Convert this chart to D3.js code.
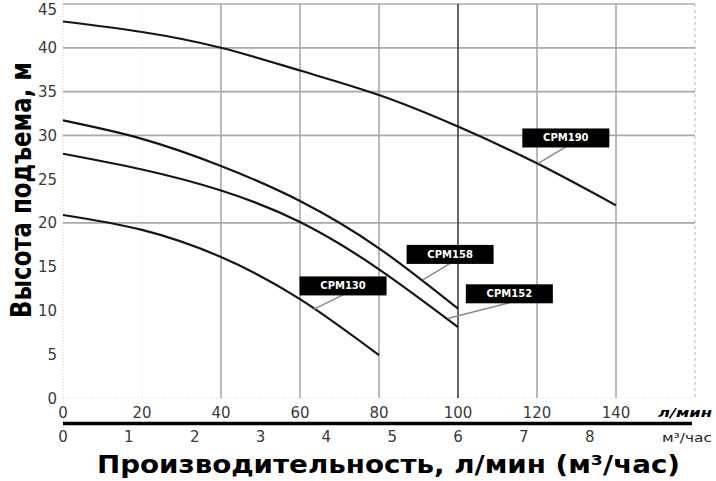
<!DOCTYPE html>
<html>
<head>
<meta charset="utf-8">
<script src="https://cdn.jsdelivr.net/npm/d3@7/dist/d3.min.js"></script>
<style>
  body { margin: 0; background: #fff; }
  svg { display: block; }
  .tick-label { font-family: "DejaVu Sans", sans-serif; font-size: 15px; fill: #3a3a3a; }
</style>
</head>
<body>
<div id="chart"></div>
<script>
var w = 716;
var h = 481;

// flow, l/min and head, m
var flow190 = [0, 20, 40, 60, 80, 100, 120, 140];
var head190 = [43, 41.8, 40, 37.4, 34.6, 31, 26.8, 22];
var flow158 = [0, 20, 40, 60, 80, 100];
var head158 = [31.7, 29.6, 26.5, 22.5, 17.1, 10.2];
var flow152 = [0, 20, 40, 60, 80, 100];
var head152 = [27.9, 26.1, 23.7, 20.1, 14.7, 8.1];
var flow130 = [0, 20, 40, 60, 80];
var head130 = [20.9, 19.2, 16.1, 11.3, 4.9];

var seriesNames = ["CPM190", "CPM158", "CPM152", "CPM130"];
// label box centre and leader end, in l/min and m
var labelBox = [[127.3, 29.7], [98, 16.4], [113, 11.9], [70.9, 12.8]];
var labelTip = [[120.3, 26.8], [91.1, 13.5], [97.6, 9.1], [63.3, 10.1]];

var yTicks = [0, 5, 10, 15, 20, 25, 30, 35, 40, 45];
var xTicks = [0, 20, 40, 60, 80, 100, 120, 140];
var m3Ticks = [0, 1, 2, 3, 4, 5, 6, 7, 8];
var hGrid = [20, 30, 35, 40, 45];
var vGrid = [40, 60, 80, 120, 140];

var series = [
	d3.zip(flow190, head190),
	d3.zip(flow158, head158),
	d3.zip(flow152, head152),
	d3.zip(flow130, head130)
];

var x = d3.scaleLinear().domain([0, 160]).range([63, 695]);
var xm3 = d3.scaleLinear().domain([0, 160 * 60 / 1000]).range([63, 695]);
var y = d3.scaleLinear().domain([0, 45]).range([398, 4]);

var svg = d3.select("#chart")
	.append("svg")
	.attr("width", w)
	.attr("height", h);

// faint edges
svg.append("line")
	.attr("x1", x(0)).attr("x2", x(0))
	.attr("y1", y(45)).attr("y2", y(0))
	.attr("stroke", "#d4d4d4").attr("stroke-width", 1.2)
	.attr("stroke-dasharray", "1,2");
svg.append("line")
	.attr("x1", x(20)).attr("x2", x(20))
	.attr("y1", y(45)).attr("y2", y(0))
	.attr("stroke", "#e2e2e2").attr("stroke-width", 1)
	.attr("stroke-dasharray", "1,3");
svg.append("line")
	.attr("x1", x(0)).attr("x2", x(160))
	.attr("y1", y(0)).attr("y2", y(0))
	.attr("stroke", "#d4d4d4").attr("stroke-width", 1.2)
	.attr("stroke-dasharray", "1,2");
svg.append("line")
	.attr("x1", x(160)).attr("x2", x(160))
	.attr("y1", y(45)).attr("y2", y(0))
	.attr("stroke", "#c4c4c4").attr("stroke-width", 1.2)
	.attr("stroke-dasharray", "3,3");

// grid
svg.selectAll(".hgrid")
	.data(hGrid)
	.enter()
	.append("line")
	.attr("class", "hgrid")
	.attr("x1", x(0)).attr("x2", x(160))
	.attr("y1", (d) => y(d)).attr("y2", (d) => y(d))
	.attr("stroke", "#a9a9a9").attr("stroke-width", 1.7);

svg.selectAll(".vgrid")
	.data(vGrid)
	.enter()
	.append("line")
	.attr("class", "vgrid")
	.attr("x1", (d) => x(d)).attr("x2", (d) => x(d))
	.attr("y1", y(45)).attr("y2", y(0))
	.attr("stroke", "#a9a9a9").attr("stroke-width", 1.6);

svg.append("line")
	.attr("x1", x(100)).attr("x2", x(100))
	.attr("y1", y(45)).attr("y2", y(0))
	.attr("stroke", "#333").attr("stroke-width", 1.5);

// curves
var line = d3.line()
	.x((d) => x(d[0]))
	.y((d) => y(d[1]))
	.curve(d3.curveNatural);

svg.selectAll(".curve")
	.data(series)
	.enter()
	.append("path")
	.attr("class", "curve")
	.attr("d", line)
	.attr("fill", "none")
	.attr("stroke", "#151515")
	.attr("stroke-width", 2.2);

// labels
var labels = svg.selectAll(".lbl")
	.data(seriesNames)
	.enter()
	.append("g")
	.attr("class", "lbl");

labels.append("line")
	.attr("x1", (d, i) => x(labelBox[i][0]))
	.attr("y1", (d, i) => y(labelBox[i][1]) + 9)
	.attr("x2", (d, i) => x(labelTip[i][0]))
	.attr("y2", (d, i) => y(labelTip[i][1]))
	.attr("stroke", "#8a8a8a")
	.attr("stroke-width", 1.5);

labels.append("rect")
	.attr("x", (d, i) => x(labelBox[i][0]) - 43.5)
	.attr("y", (d, i) => y(labelBox[i][1]) - 9.5)
	.attr("width", 87)
	.attr("height", 19)
	.attr("fill", "#000");

labels.append("text")
	.attr("x", (d, i) => x(labelBox[i][0]))
	.attr("y", (d, i) => y(labelBox[i][1]) + 3.5)
	.attr("text-anchor", "middle")
	.style("font-family", "DejaVu Sans, sans-serif")
	.style("font-size", "10px")
	.style("font-weight", "bold")
	.style("fill", "#fff")
	.text((d) => d);

// y tick labels
svg.selectAll(".ytick")
	.data(yTicks)
	.enter()
	.append("text")
	.attr("class", "tick-label")
	.attr("x", 57)
	.attr("y", (d) => Math.max(y(d) + 5.5, 15))
	.attr("text-anchor", "end")
	.text((d) => d);

// x tick labels, l/min
svg.selectAll(".xtick")
	.data(xTicks)
	.enter()
	.append("text")
	.attr("class", "tick-label")
	.attr("x", (d) => x(d))
	.attr("y", 417.5)
	.attr("text-anchor", "middle")
	.text((d) => d);

// x tick labels, m3/h
svg.selectAll(".m3tick")
	.data(m3Ticks)
	.enter()
	.append("text")
	.attr("class", "tick-label")
	.attr("x", (d) => xm3(d))
	.attr("y", 442)
	.attr("text-anchor", "middle")
	.text((d) => d);

svg.append("line")
	.attr("x1", 63).attr("x2", 692)
	.attr("y1", 423.5).attr("y2", 423.5)
	.attr("stroke", "#000").attr("stroke-width", 3.5);

svg.append("text")
	.attr("x", 658)
	.attr("y", 417)
	.attr("textLength", 54)
	.attr("lengthAdjust", "spacingAndGlyphs")
	.style("font-family", "DejaVu Sans, sans-serif")
	.style("font-size", "13px")
	.style("font-weight", "bold")
	.style("font-style", "italic")
	.text("л/мин");

svg.append("text")
	.attr("x", 662)
	.attr("y", 442)
	.attr("textLength", 50)
	.attr("lengthAdjust", "spacingAndGlyphs")
	.style("font-family", "DejaVu Sans, sans-serif")
	.style("font-size", "12px")
	.style("fill", "#222")
	.text("м³/час");

// axis titles
svg.append("text")
	.attr("transform", "translate(31,318) rotate(-90)")
	.attr("textLength", 256)
	.attr("lengthAdjust", "spacingAndGlyphs")
	.style("font-family", "DejaVu Sans, sans-serif")
	.style("font-size", "28px")
	.style("font-weight", "bold")
	.text("Высота подъема, м");

svg.append("text")
	.attr("x", 97)
	.attr("y", 473)
	.attr("textLength", 583)
	.attr("lengthAdjust", "spacingAndGlyphs")
	.style("font-family", "DejaVu Sans, sans-serif")
	.style("font-size", "25px")
	.style("font-weight", "bold")
	.text("Производительность, л/мин (м³/час)");
</script>
</body>
</html>
